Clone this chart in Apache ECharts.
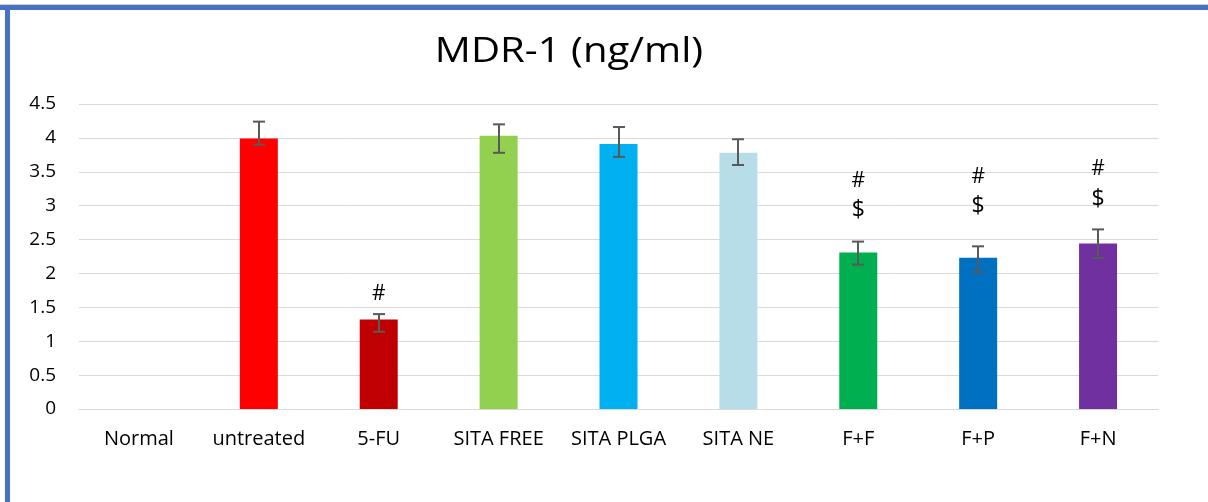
<!DOCTYPE html>
<html>
<head>
<meta charset="utf-8">
<script src="https://cdn.jsdelivr.net/npm/echarts@6/dist/echarts.min.js"></script>
<style>
html,body{margin:0;padding:0;background:#fff;}
#main{width:1208px;height:502px;}
</style>
</head>
<body>
<div id="main"></div>
<script>
// ---- data ----
var categories = ['Normal', 'untreated', '5-FU', 'SITA FREE', 'SITA PLGA', 'SITA NE', 'F+F', 'F+P', 'F+N'];
var values     = [0, 3.99, 1.32, 4.03, 3.91, 3.78, 2.31, 2.23, 2.44];
var errLow     = [null, 3.90, 1.14, 3.78, 3.72, 3.60, 2.13, 2.02, 2.23];
var errHigh    = [null, 4.24, 1.40, 4.20, 4.16, 3.98, 2.47, 2.40, 2.65];
var barColors  = ['#FFFFFF', '#FF0000', '#C00000', '#92D050', '#00B0F0', '#B7DEE8', '#00B050', '#0070C0', '#7030A0'];
// annotation marks: the value level where each is drawn
var hashY      = [null, null, 1.69, null, null, null, 3.36, 3.42, 3.54];
var dollarY    = [null, null, null, null, null, null, 2.93, 2.99, 3.09];
var yTicks     = ['0', '0.5', '1', '1.5', '2', '2.5', '3', '3.5', '4', '4.5'];
var titleText  = 'MDR-1 (ng/ml)';

var FONT = '"Open Sans", "Noto Sans", sans-serif';
var chart = echarts.init(document.getElementById('main'), null, {renderer: 'canvas'});

function markSeries(arr, txt, size) {
  return {
    type: 'custom', silent: true, z: 5,
    data: arr.map(function (v, i) { return v == null ? null : [i, v]; }).filter(function (d) { return d; }),
    renderItem: function (params, api) {
      var p = api.coord([api.value(0), api.value(1)]);
      return {
        type: 'text', x: p[0], y: p[1],
        style: {text: txt, font: size + 'px ' + FONT, fill: '#000', textAlign: 'center', textVerticalAlign: 'middle'}
      };
    }
  };
}

chart.setOption({
  animation: false,
  backgroundColor: '#fff',
  graphic: [
    {type: 'rect', shape: {x: 0, y: 4, width: 1208, height: 1}, style: {fill: '#d0d0d0'}, silent: true},
    {type: 'rect', shape: {x: 0, y: 5, width: 1208, height: 5}, style: {fill: '#4472C4'}, silent: true},
    {type: 'rect', shape: {x: 5, y: 5, width: 5, height: 497}, style: {fill: '#4472C4'}, silent: true},
    {type: 'text', x: 569, y: 52, scaleX: 1.18, style: {text: titleText, font: '34px ' + FONT, fill: '#000', textAlign: 'center', textVerticalAlign: 'middle'}, silent: true}
  ],
  grid: {left: 79, right: 50, top: 104, bottom: 93, containLabel: false},
  xAxis: {
    type: 'category', data: categories,
    axisLine: {show: true, lineStyle: {color: '#d9d9d9', width: 1}},
    axisTick: {show: false},
    axisLabel: {color: '#000', fontSize: 20, fontFamily: FONT, margin: 20, interval: 0}
  },
  yAxis: {
    type: 'value', min: 0, max: 4.5, interval: 0.5,
    axisLine: {show: false}, axisTick: {show: false},
    splitLine: {lineStyle: {color: '#d9d9d9', width: 1}},
    axisLabel: {
      color: '#000', fontSize: 19, fontFamily: FONT, margin: 23,
      formatter: function (v) { return yTicks[Math.round(v / 0.5)]; }
    }
  },
  series: [
    {
      type: 'bar', barWidth: 38, z: 2,
      data: values.map(function (v, i) { return {value: v, itemStyle: {color: barColors[i]}}; })
    },
    {
      type: 'custom', z: 4, silent: true,
      data: errLow.map(function (lo, i) { return lo == null ? null : [i, lo, errHigh[i]]; }).filter(function (d) { return d; }),
      renderItem: function (params, api) {
        var x = api.value(0);
        var lo = api.coord([x, api.value(1)]);
        var hi = api.coord([x, api.value(2)]);
        var cx = Math.round(lo[0]);
        var hw = 6;
        var st = {stroke: '#595959', lineWidth: 2};
        return {
          type: 'group',
          children: [
            {type: 'line', shape: {x1: cx, y1: hi[1], x2: cx, y2: lo[1]}, style: st},
            {type: 'line', shape: {x1: cx - hw, y1: hi[1], x2: cx + hw, y2: hi[1]}, style: st},
            {type: 'line', shape: {x1: cx - hw, y1: lo[1], x2: cx + hw, y2: lo[1]}, style: st}
          ]
        };
      }
    },
    markSeries(hashY, '#', 21),
    markSeries(dollarY, '$', 23)
  ]
});
</script>
</body>
</html>
